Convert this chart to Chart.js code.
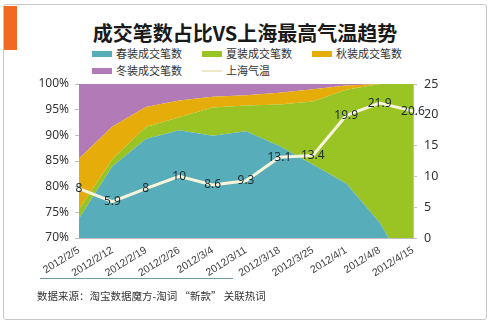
<!DOCTYPE html>
<html>
<head>
<meta charset="utf-8">
<script src="https://cdn.jsdelivr.net/npm/chart.js@4/dist/chart.umd.min.js"></script>
<style>
  html, body { margin: 0; padding: 0; background: #fff; }
  #wrap { position: relative; width: 490px; height: 323px; overflow: hidden;
          font-family: "Noto Sans CJK SC", "Noto Sans", sans-serif; }
  #frame { position: absolute; left: 3px; top: 4px; width: 482px; height: 314px;
           border: 1px solid #c8c8c8; border-radius: 3px; }
  #tag { position: absolute; left: 4px; top: 6px; width: 13px; height: 44px; background: #f26a21; }
  #title { position: absolute; left: 0; width: 490px; top: 19px; text-align: center;
           font-size: 20px; font-weight: bold; color: #1a1a1a; line-height: 28px; }
  #legend { position: absolute; left: 92px; top: 45px; font-size: 11px; color: #333; }
  .item { position: absolute; white-space: nowrap; line-height: 16px; }
  .sw { display: inline-block; width: 20px; height: 6px; vertical-align: middle; margin-right: 4px; position: relative; top: -1px; }
  .sw.line { height: 2px; }
  #rule { position: absolute; left: 40px; top: 278px; width: 193px; height: 1px; background: #6f98a8; }
  #source { position: absolute; left: 37px; top: 288px; font-size: 10.5px; color: #333; }
  canvas { position: absolute; left: 0; top: 0; }
</style>
</head>
<body>
<div id="wrap">
  <div id="frame"></div>
  <div id="tag"></div>
  <div id="title">成交笔数占比VS上海最高气温趋势</div>
  <div id="legend"></div>
  <canvas id="chart" width="490" height="323"></canvas>
  <div id="rule"></div>
  <div id="source">数据来源：淘宝数据魔方-淘词 “新款” 关联热词</div>
</div>
<script>
// 周度日期
const dates = ['2012/2/5', '2012/2/12', '2012/2/19', '2012/2/26', '2012/3/4', '2012/3/11',
               '2012/3/18', '2012/3/25', '2012/4/1', '2012/4/8', '2012/4/15'];

// 各季服装成交笔数占比（%）
const springShare = [73.8, 84.0, 89.3, 91.0, 89.9, 90.8, 87.9, 84.3, 80.6, 73.0, 62.0];
const summerShare = [1.8, 1.4, 2.3, 2.5, 5.5, 5.0, 8.1, 12.3, 18.3, 27.0, 38.0];
const autumnShare = [9.9, 6.3, 3.9, 3.3, 2.1, 2.0, 2.3, 2.4, 0.8, 0, 0];
const winterShare = [14.5, 8.3, 4.5, 3.2, 2.5, 2.2, 1.7, 1.0, 0.3, 0, 0];

// 上海最高气温（℃）
const shanghaiTemp = [8, 5.9, 8, 10, 8.6, 9.3, 13.1, 13.4, 19.9, 21.9, 20.6];

const seriesNames = ['春装成交笔数', '夏装成交笔数', '秋装成交笔数', '冬装成交笔数', '上海气温'];
const seriesColors = ['#57adb9', '#99c424', '#e6ac0a', '#b27ab6', '#f8f5dc'];

// 图例：两行三列
const legendEl = document.getElementById('legend');
seriesNames.forEach((name, i) => {
  const d = document.createElement('div');
  d.className = 'item';
  d.style.left = (i % 3) * 110 + 'px';
  d.style.top = Math.floor(i / 3) * 17 + 'px';
  const sw = document.createElement('span');
  sw.className = 'sw' + (i === 4 ? ' line' : '');
  sw.style.background = i === 4 ? '#eee9c4' : seriesColors[i];
  d.appendChild(sw);
  d.appendChild(document.createTextNode(name));
  legendEl.appendChild(d);
});

// 折线上的数值标签
const valueLabels = {
  id: 'valueLabels',
  afterDatasetsDraw(chart) {
    const meta = chart.getDatasetMeta(4);
    const ctx = chart.ctx;
    ctx.save();
    ctx.font = '12px "Noto Sans", "Noto Sans CJK SC", sans-serif';
    ctx.fillStyle = '#1e2b30';
    ctx.textAlign = 'center';
    ctx.textBaseline = 'middle';
    meta.data.forEach((pt, i) => {
      ctx.fillText(String(shanghaiTemp[i]), pt.x, pt.y);
    });
    ctx.restore();
  }
};

const area = (label, data, color, fill) => ({
  label, data, fill,
  backgroundColor: color, borderColor: color, borderWidth: 0,
  pointRadius: 0, tension: 0, yAxisID: 'y', order: 1
});

Chart.defaults.font.family = '"Noto Sans", "Noto Sans CJK SC", sans-serif';
Chart.defaults.color = '#333';

new Chart(document.getElementById('chart'), {
  type: 'line',
  data: {
    labels: dates,
    datasets: [
      area(seriesNames[0], springShare, seriesColors[0], 'origin'),
      area(seriesNames[1], summerShare, seriesColors[1], '-1'),
      area(seriesNames[2], autumnShare, seriesColors[2], '-1'),
      area(seriesNames[3], winterShare, seriesColors[3], '-1'),
      {
        label: seriesNames[4], data: shanghaiTemp, yAxisID: 'y1',
        borderColor: seriesColors[4], borderWidth: 3, pointRadius: 0,
        fill: false, tension: 0, order: 0
      }
    ]
  },
  options: {
    responsive: false,
    animation: false,
    layout: { padding: { top: 84, left: 0, right: 0, bottom: 0 } },
    plugins: { legend: { display: false }, tooltip: { enabled: false } },
    scales: {
      x: {
        offset: false,
        grid: { display: false, drawTicks: false },
        border: { color: '#c0c0c0' },
        ticks: { autoSkip: false, minRotation: 32, maxRotation: 32, padding: 6,
                 font: { size: 10.5, family: '"Liberation Sans", sans-serif' }, color: '#404040' },
        afterFit(scale) { scale.height = 85; }
      },
      y: {
        position: 'left', stacked: true, min: 70, max: 100,
        grid: { drawOnChartArea: false, tickLength: 4, color: '#c0c0c0' },
        border: { color: '#c0c0c0' },
        ticks: { stepSize: 5, padding: 6, font: { size: 12 }, callback: v => v + '%' },
        afterFit(scale) { scale.width = 79; }
      },
      y1: {
        position: 'right', min: 0, max: 25,
        grid: { drawOnChartArea: false, tickLength: 4, color: '#c0c0c0' },
        border: { color: '#c0c0c0' },
        ticks: { stepSize: 5, padding: 7, font: { size: 12.5 } },
        afterFit(scale) { scale.width = 77; }
      }
    }
  },
  plugins: [valueLabels]
});
</script>
</body>
</html>
